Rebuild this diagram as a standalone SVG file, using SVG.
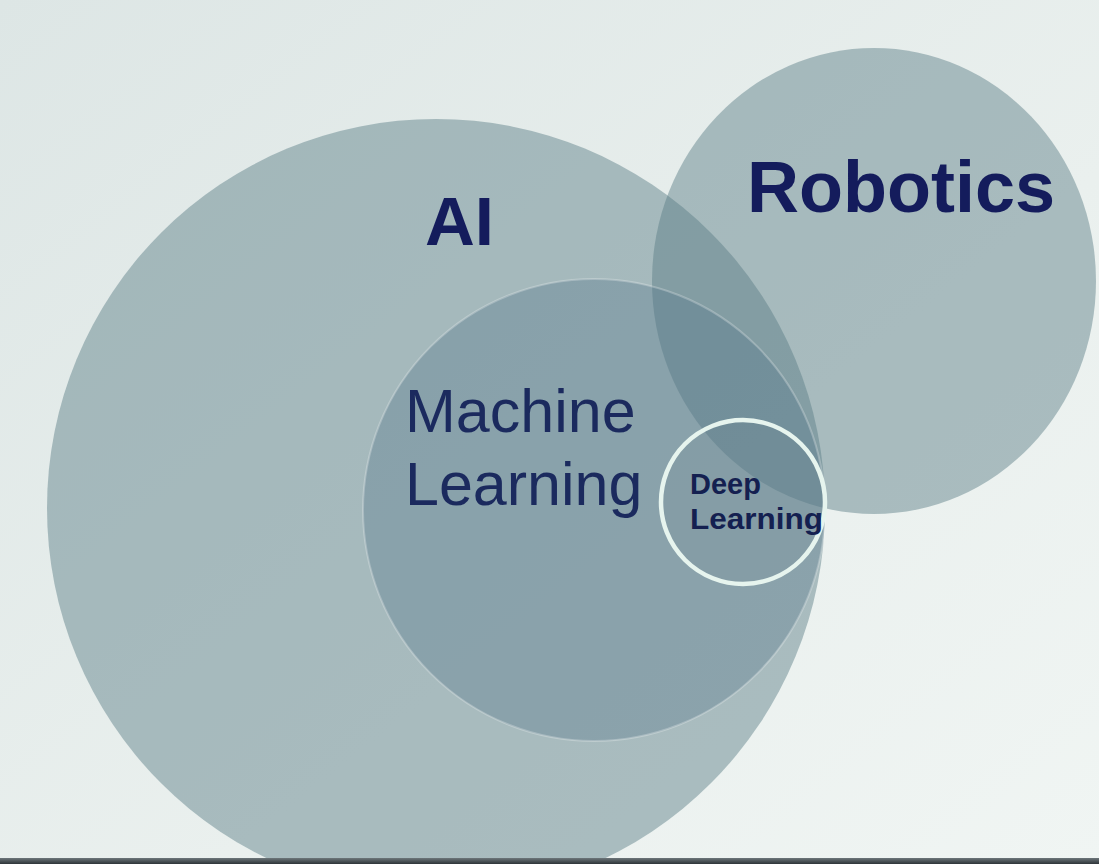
<svg xmlns="http://www.w3.org/2000/svg" width="1099" height="864" viewBox="0 0 1099 864">
  <defs>
    <linearGradient id="bg" x1="0" y1="0" x2="1" y2="1">
      <stop offset="0" stop-color="#dde6e5"/>
      <stop offset="0.6" stop-color="#eaf0ee"/>
      <stop offset="1" stop-color="#f0f5f3"/>
    </linearGradient>
    <linearGradient id="bezel" x1="0" y1="0" x2="0" y2="1">
      <stop offset="0" stop-color="#6d767a"/>
      <stop offset="1" stop-color="#2e3438"/>
    </linearGradient>
  </defs>
  <style>
    .set { fill: #5a7d86; fill-opacity: 0.46; }
    .ml { fill: #56788a; fill-opacity: 0.36; stroke: #ffffff; stroke-opacity: 0.25; stroke-width: 2; }
    .dl { fill: #5f7f86; fill-opacity: 0.12; stroke: #e6f4ee; stroke-width: 4.5; }
    .big { font-family: "Liberation Sans", Arial, sans-serif; font-weight: bold; fill: #141c5c; }
    .mid { font-family: "Liberation Sans", Arial, sans-serif; font-size: 61px; fill: #1b2a5e; }
    .small { font-family: "Liberation Sans", Arial, sans-serif; font-weight: bold; font-size: 29px; fill: #142050; }
  </style>
  <rect x="0" y="0" width="1099" height="864" fill="url(#bg)"/>
  <g id="ai">
    <circle class="set" cx="436" cy="508" r="389"/>
    <text class="big" x="425" y="245" font-size="69">AI</text>
  </g>
  <g id="robotics">
    <ellipse class="set" cx="874" cy="281" rx="222" ry="233"/>
    <text class="big" x="747" y="212" font-size="72">Robotics</text>
  </g>
  <g id="machine-learning">
    <circle class="ml" cx="594" cy="510" r="231"/>
    <text class="mid" x="405" y="432">Machine</text>
    <text class="mid" x="405" y="505">Learning</text>
  </g>
  <g id="deep-learning">
    <circle class="dl" cx="743" cy="502" r="82"/>
    <text class="small" x="690" y="494">Deep</text>
    <text class="small" x="690" y="529" textLength="133" lengthAdjust="spacingAndGlyphs">Learning</text>
  </g>
  <g id="connectors"/>
  <rect x="0" y="858" width="1099" height="6" fill="url(#bezel)"/>
</svg>
